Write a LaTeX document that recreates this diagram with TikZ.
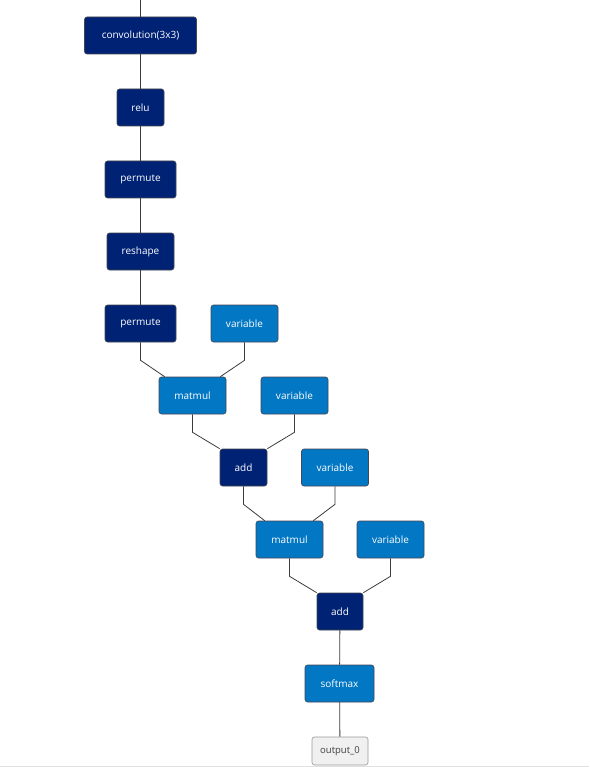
\documentclass[tikz,border=0pt]{standalone}
\usepackage{fontspec}
\setmainfont{Open Sans}
\definecolor{navy}{RGB}{0,34,116}
\definecolor{lblue}{RGB}{2,119,196}
\definecolor{edgec}{RGB}{60,60,60}
\definecolor{bordc}{RGB}{70,70,80}
\definecolor{outfill}{RGB}{240,240,240}
\begin{document}
\begin{tikzpicture}[x=1pt,y=-1pt,
  box/.style={draw=bordc,line width=0.6pt,rounded corners=2.5pt,minimum height=37pt,inner sep=0pt,text=white,font=\fontsize{10}{12}\selectfont},
  dk/.style={box,fill=navy},
  lt/.style={box,fill=lblue},
  outbox/.style={draw=gray!80,line width=0.6pt,rounded corners=2.5pt,fill=outfill,minimum height=28pt,minimum width=56pt,inner sep=0pt,text=black!75,font=\fontsize{9.5}{11}\selectfont},
  conn/.style={draw=edgec,line width=0.8pt}]
\useasboundingbox (0,0) rectangle (589,767);
\fill[white] (0,0) rectangle (589,767);
\draw[gray!25,line width=1pt] (0,766) -- (589,766);
\coordinate (top) at (140.5,0);
\node[dk,minimum width=112pt] (conv) at (140.5,35.5) {convolution(3x3)};
\node[dk,minimum width=47pt] (relu) at (140.5,107.5) {relu};
\node[dk,minimum width=71pt] (perm1) at (140.5,179.5) {permute};
\node[dk,minimum width=67pt] (resh) at (140.5,251.5) {reshape};
\node[dk,minimum width=71pt] (perm2) at (140.5,323.5) {permute};
\node[lt,minimum width=67pt] (var1) at (244.5,323.5) {variable};
\node[lt,minimum width=67pt] (mm1) at (192.5,395.5) {matmul};
\node[lt,minimum width=67pt] (var2) at (294.5,395.5) {variable};
\node[dk,minimum width=47pt] (add1) at (243.5,467.5) {add};
\node[lt,minimum width=67pt] (var3) at (335,467.5) {variable};
\node[lt,minimum width=67pt] (mm2) at (289.5,539.5) {matmul};
\node[lt,minimum width=67pt] (var4) at (390.5,539.5) {variable};
\node[dk,minimum width=46pt] (add2) at (340,611.5) {add};
\node[lt,minimum width=69pt] (soft) at (339.5,683.5) {softmax};
\node[outbox] (out) at (340,751) {output\_0};
\draw[conn] (top) -- (conv.north);
\draw[conn] (conv) -- (relu);
\draw[conn] (relu) -- (perm1);
\draw[conn] (perm1) -- (resh);
\draw[conn] (resh) -- (perm2);
\draw[conn] (perm2.south) -- ++(0,18) -- ([xshift=6pt]mm1.north west);
\draw[conn] (var1.south) -- ++(0,18) -- ([xshift=-6pt]mm1.north east);
\draw[conn] (mm1.south) -- ++(0,18) -- (add1.north west);
\draw[conn] (var2.south) -- ++(0,18) -- (add1.north east);
\draw[conn] (add1.south) -- ++(0,18) -- ([xshift=9pt]mm2.north west);
\draw[conn] (var3.south) -- ++(0,18) -- ([xshift=-10pt]mm2.north east);
\draw[conn] (mm2.south) -- ++(0,18) -- (add2.north west);
\draw[conn] (var4.south) -- ++(0,18) -- (add2.north east);
\draw[conn] (add2) -- (soft);
\draw[conn] (soft) -- (out);
\end{tikzpicture}
\end{document}
